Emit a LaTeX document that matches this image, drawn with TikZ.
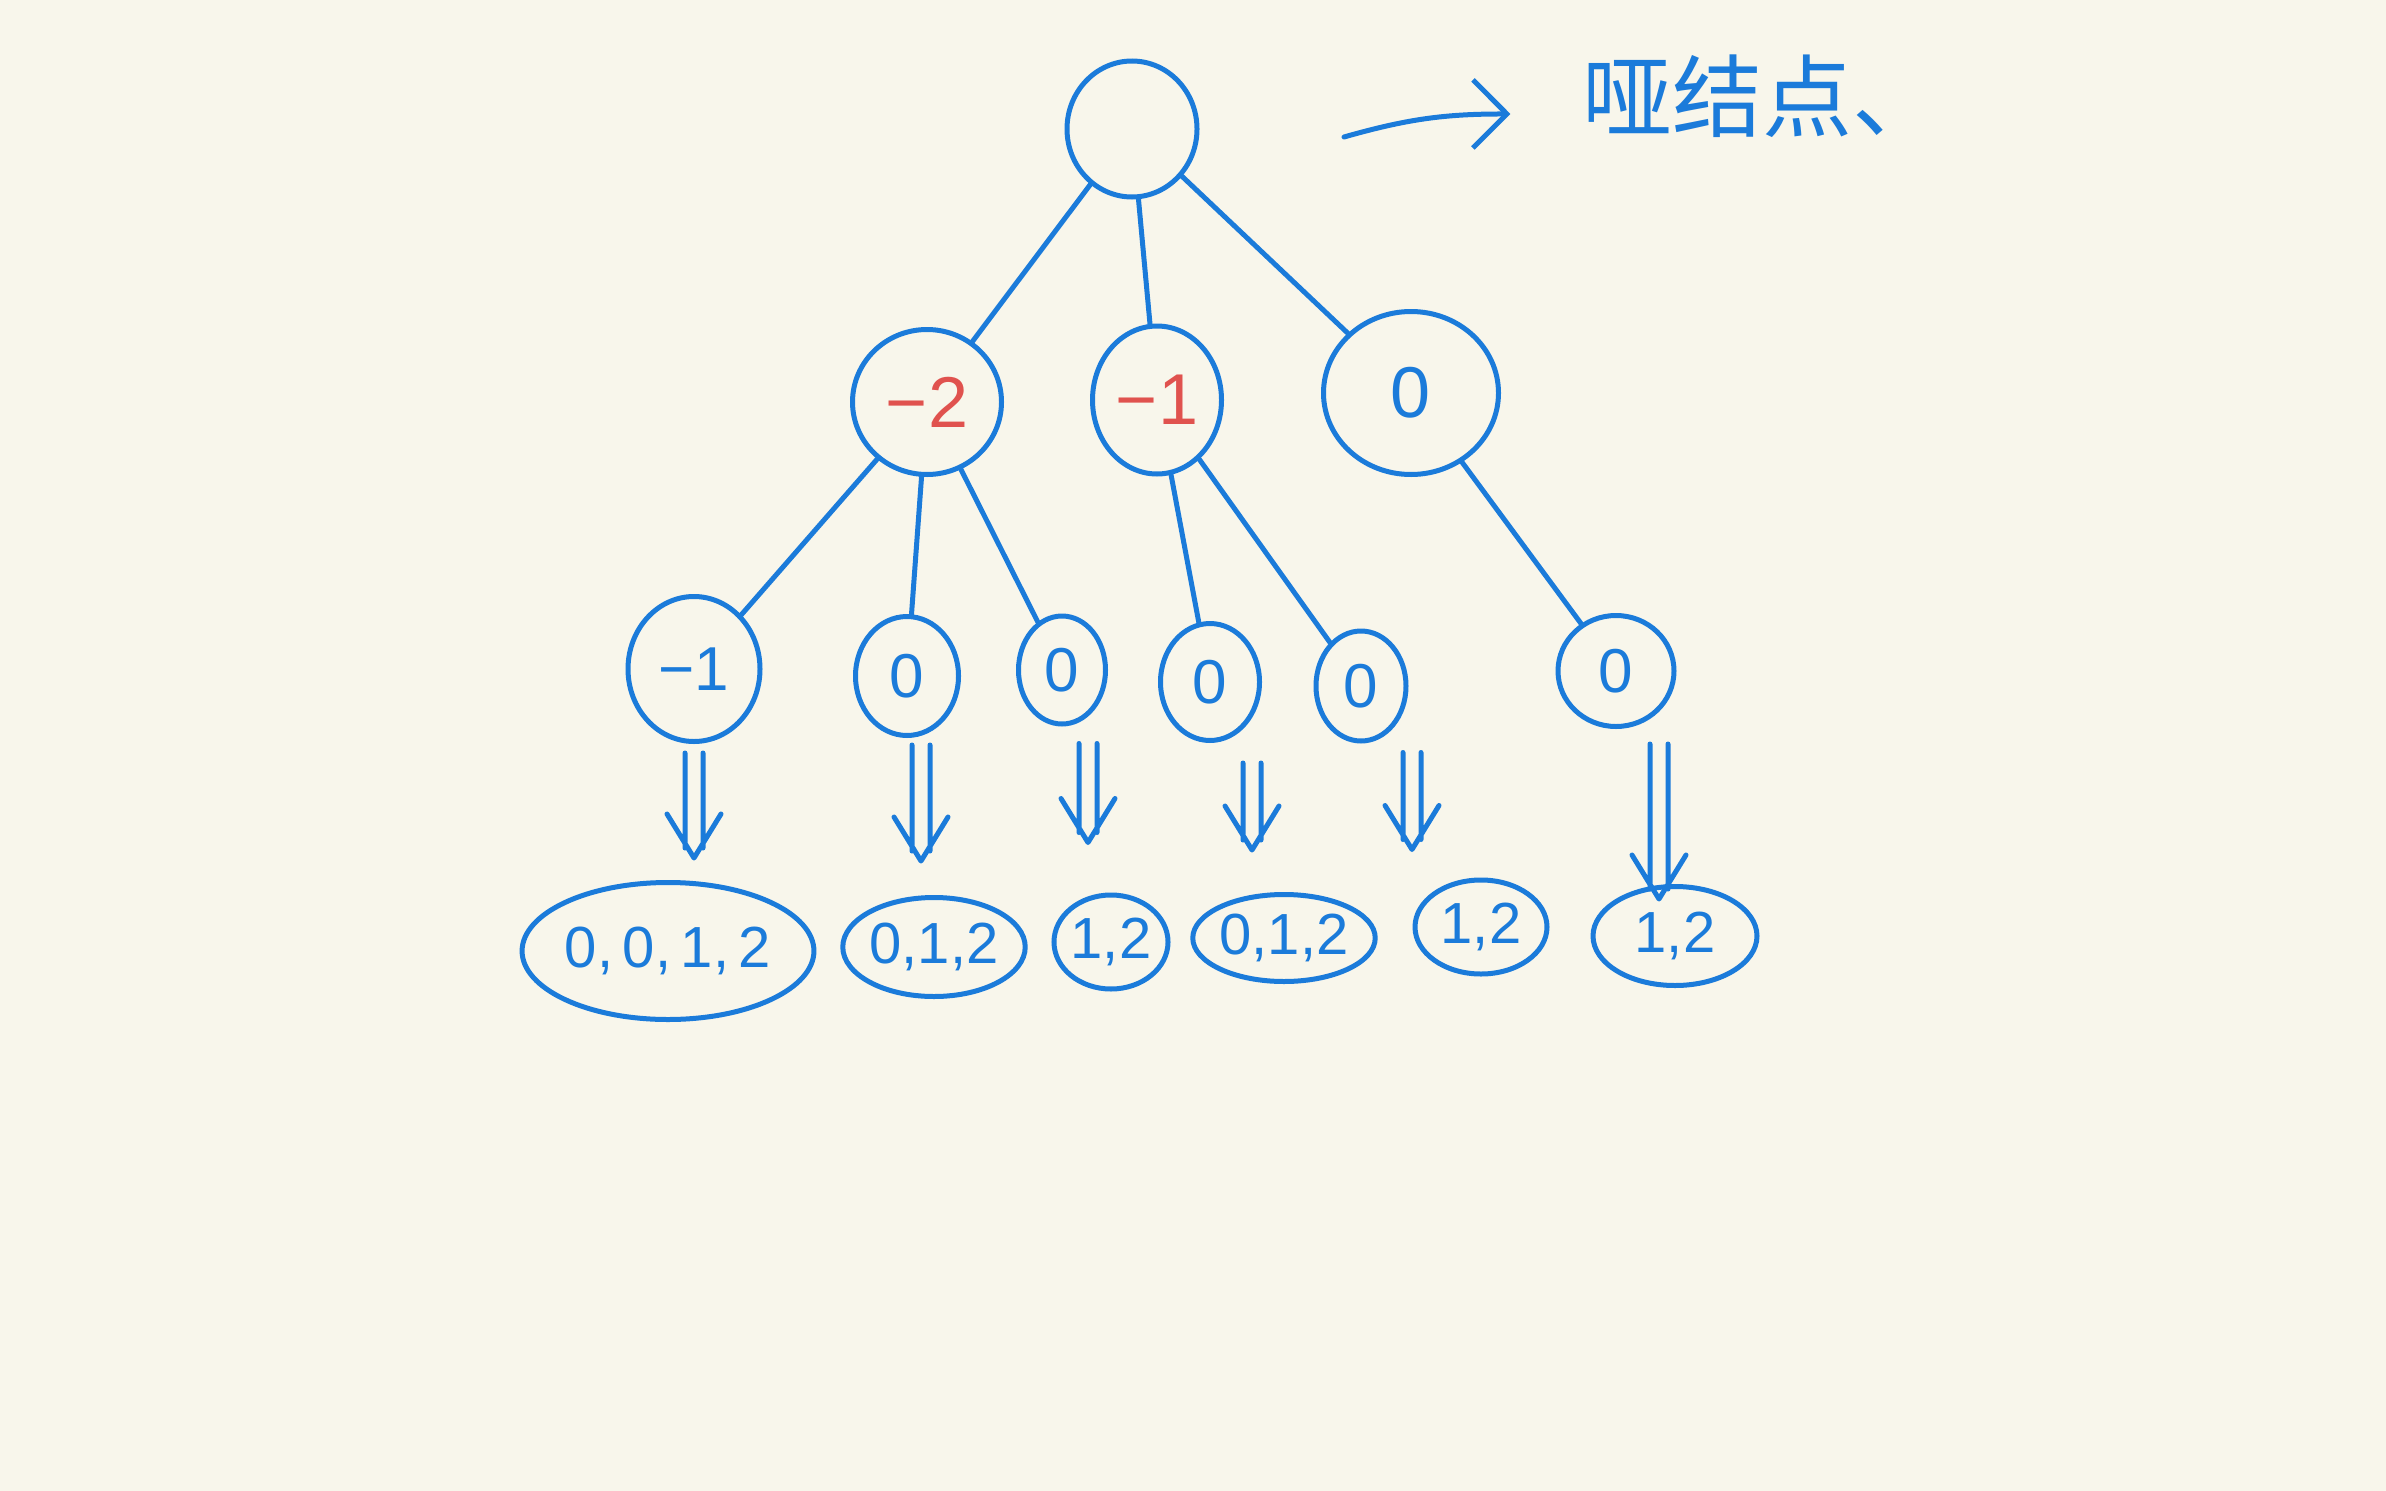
\documentclass[tikz,border=0pt]{standalone}
\usepackage{fontspec}
\setmainfont{Liberation Sans}
\newfontfamily\cjk{Noto Sans CJK SC}
\usetikzlibrary{shapes.geometric,arrows.meta}
\definecolor{blu}{HTML}{1B7BDA}
\definecolor{rd}{HTML}{E0524E}
\definecolor{bg}{HTML}{F8F6EB}
\tikzset{
  bub/.style={ellipse, draw=blu, line width=5pt, inner sep=0pt, text=blu},
  big/.style={font=\fontsize{72}{72}\selectfont},
  mid/.style={font=\fontsize{62}{62}\selectfont},
  sml/.style={font=\fontsize{58}{58}\selectfont},
  edge/.style={draw=blu, line width=5pt, line cap=round},
  dbl/.style={draw=blu, line width=5pt, line cap=round, line join=round,
    to path={([xshift=-9pt]\tikztostart) -- ([xshift=-9pt,yshift=10pt]\tikztotarget)
             ([xshift=9pt]\tikztostart) -- ([xshift=9pt,yshift=10pt]\tikztotarget)
             ([xshift=-27pt,yshift=44pt]\tikztotarget) -- (\tikztotarget) -- ([xshift=27pt,yshift=44pt]\tikztotarget)}},
}
\begin{document}
\begin{tikzpicture}[x=1pt,y=-1pt]
\fill[bg] (0,0) rectangle (2386,1491);
\useasboundingbox (0,0) rectangle (2386,1491);
% root and level 2
\node[bub, minimum width=130pt, minimum height=136pt] (root) at (1132,129) {};
\node[bub, big, text=rd, minimum width=149pt, minimum height=145pt] (a) at (927,402) {−2};
\node[bub, big, text=rd, minimum width=129pt, minimum height=148pt] (b) at (1157,400) {−1};
\node[bub, big, minimum width=175pt, minimum height=163pt] (c) at (1411,393) {0};
% level 3
\node[bub, mid, minimum width=132pt, minimum height=145pt] (d) at (694,669) {−1};
\node[bub, mid, minimum width=103pt, minimum height=119pt] (e) at (907,676) {0};
\node[bub, mid, minimum width=87pt, minimum height=108pt] (f) at (1062,670) {0};
\node[bub, mid, minimum width=99pt, minimum height=117pt] (g) at (1210,682) {0};
\node[bub, mid, minimum width=90pt, minimum height=110pt] (h) at (1361,686) {0};
\node[bub, mid, minimum width=116pt, minimum height=111pt] (i) at (1616,671) {0};
% leaves
\node[bub, sml, minimum width=271pt, minimum height=137pt] (l1) at (668,951) {0,\,0,\,1,\,2};
\node[bub, sml, minimum width=170pt, minimum height=99pt] (l2) at (934,947) {0,1,2};
\node[bub, sml, minimum width=114pt, minimum height=94pt] (l3) at (1111,942) {1,2};
\node[bub, sml, minimum width=143pt, minimum height=87pt] (l4) at (1284,938) {0,1,2};
\node[bub, sml, minimum width=132pt, minimum height=94pt] (l5) at (1481,927) {1,2};
\node[bub, sml, minimum width=164pt, minimum height=99pt] (l6) at (1675,936) {1,2};
% label
\node[text=blu, font=\cjk\fontsize{90}{90}\selectfont, anchor=center] (lab) at (1762,96) {哑结点、};
\coordinate (arrS) at (1344,137);
\coordinate (arrE) at ([xshift=-68pt,yshift=-18pt]lab.west);
% tree edges
\draw[edge] (root) -- (a);
\draw[edge] (root) -- (b);
\draw[edge] (root) -- (c);
\draw[edge] (a) -- (d);
\draw[edge] (a) -- (e);
\draw[edge] (a) -- (f);
\draw[edge] (b) -- (g);
\draw[edge] (b) -- (h);
\draw[edge] (c) -- (i);
% double arrows
\coordinate (dS) at ([yshift=-9pt]d.south);
\coordinate (dE) at ([yshift=22pt]d.south |- l1.north);
\coordinate (eS) at ([xshift=14pt,yshift=-7pt]e.south);
\coordinate (eE) at ([yshift=34pt]eS |- l2.north);
\coordinate (fS) at ([xshift=26pt,yshift=-17pt]f.south);
\coordinate (fE) at ([yshift=50pt]fS |- l3.north);
\coordinate (gS) at ([xshift=42pt,yshift=-20pt]g.south);
\coordinate (gE) at ([yshift=42pt]gS |- l4.north);
\coordinate (hS) at ([xshift=51pt,yshift=-9pt]h.south);
\coordinate (hE) at ([yshift=28pt]hS |- l5.north);
\coordinate (iS) at ([xshift=43pt,yshift=-15pt]i.south);
\coordinate (iE) at ([yshift=-15pt]iS |- l6.north);
\draw[dbl] (dS) to (dE);
\draw[dbl] (eS) to (eE);
\draw[dbl] (fS) to (fE);
\draw[dbl] (gS) to (gE);
\draw[dbl] (hS) to (hE);
\draw[dbl] (iS) to (iE);
% label arrow
\draw[edge, -{Straight Barb[length=34pt,width=68pt]}] (arrS) to[bend left=8] (arrE);
\end{tikzpicture}
\end{document}
